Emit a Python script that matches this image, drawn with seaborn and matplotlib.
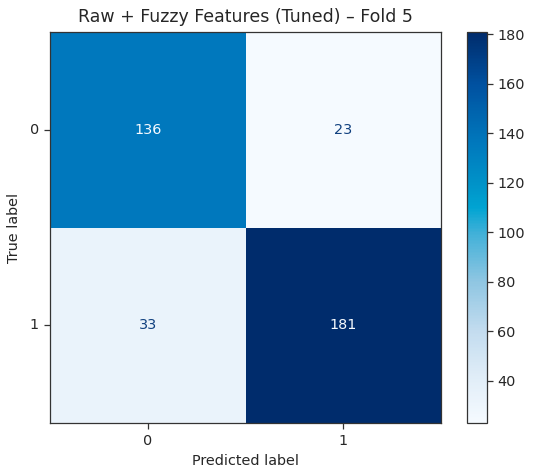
import numpy as np
import pandas as pd
import seaborn as sns
import matplotlib
matplotlib.use("Agg")
import matplotlib.pyplot as plt
from matplotlib.colors import LinearSegmentedColormap

# ---- data ----
class_labels = ["0", "1"]
row_true_0 = [136, 23]
row_true_1 = [33, 181]
title = "Raw + Fuzzy Features (Tuned) \u2013 Fold 5"
cbar_ticks = [40, 60, 80, 100, 120, 140, 160, 180]

cm = np.array([row_true_0, row_true_1])
df = pd.DataFrame(cm, index=class_labels, columns=class_labels)
vmin, vmax = cm.min(), cm.max()

# colormap approximating the reference's rendering
anchor_vals = [23, 40, 60, 80, 100, 110, 120, 136, 160, 181]
anchor_cols = ["#f5faff", "#e2eef8", "#c3dcef", "#8fc6e2", "#3fb0d8",
               "#00a4d2", "#0092c8", "#0079bd", "#0051a0", "#002c6c"]
pos = [(v - anchor_vals[0]) / (anchor_vals[-1] - anchor_vals[0]) for v in anchor_vals]
cmap = LinearSegmentedColormap.from_list("refblues", list(zip(pos, anchor_cols)))

sns.set_style("white")
plt.rcParams['font.family'] = ['DejaVu Sans']

W, H = 533, 475
fig = plt.figure(figsize=(W / 100, H / 100), dpi=100)
ax = fig.add_axes([50 / W, 52 / H, 391 / W, 391 / H])
cax = fig.add_axes([467 / W, 52 / H, 20 / W, 391 / H])

sns.heatmap(df, ax=ax, cbar_ax=cax, cmap=cmap, vmin=vmin, vmax=vmax,
            annot=False, cbar=True, linewidths=0)

FS = 10.4
thresh = (vmin + vmax) / 2
for i in range(cm.shape[0]):
    for j in range(cm.shape[1]):
        val = cm[i, j]
        color = "#f7fbff" if val > thresh else "#10407f"
        ax.text(j + 0.5, i + 0.5, f"{val}", ha="center", va="center",
                color=color, fontsize=FS)

for s in ax.spines.values():
    s.set_visible(True)
    s.set_linewidth(0.9)
    s.set_color("#333333")

ax.tick_params(axis="both", which="both", length=4, width=0.9, labelsize=FS,
               color="#333333", left=True, bottom=True, pad=4)
ax.set_yticklabels(class_labels, rotation=0)
ax.set_xticklabels(class_labels, rotation=0)
ax.set_xlabel("Predicted label", fontsize=FS, labelpad=4)
ax.set_ylabel("True label", fontsize=FS, labelpad=6)
ax.set_title(title, fontsize=12.5, pad=7)

cb = ax.collections[0].colorbar
cb.set_ticks(cbar_ticks)
cb.ax.tick_params(labelsize=FS, length=4, width=0.9, color="#333333")
cb.outline.set_visible(True)
cb.outline.set_linewidth(0.9)
cb.outline.set_edgecolor("#333333")

fig.savefig("out.png", dpi=100)
